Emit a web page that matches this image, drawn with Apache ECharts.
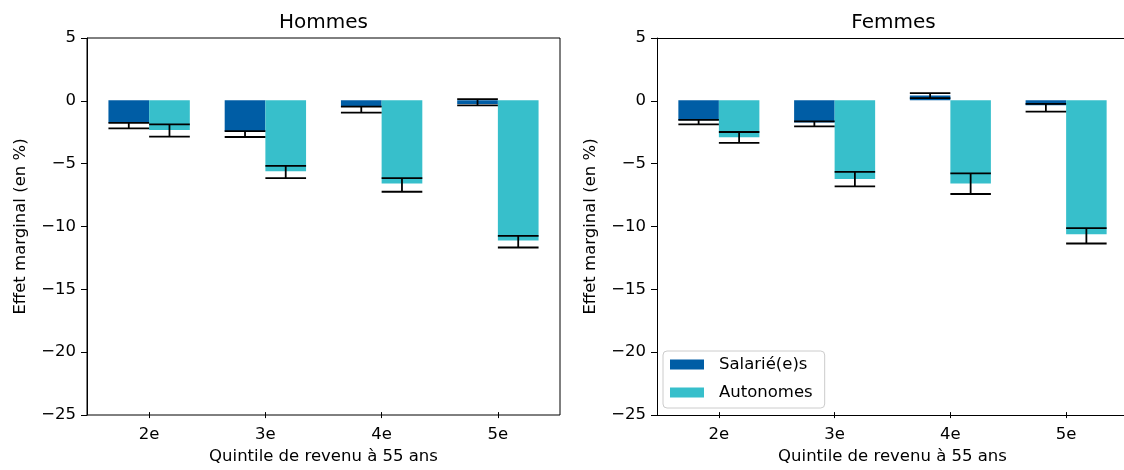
<!DOCTYPE html>
<html><head><meta charset="utf-8">
<script src="https://cdn.jsdelivr.net/npm/echarts@6/dist/echarts.min.js"></script>
<style>html,body{margin:0;padding:0;background:#fff}#c{width:1124px;height:470px}</style>
</head><body><div id="c"></div>
<script>
const categories = ['2e', '3e', '4e', '5e'];
const yTicks = [5, 0, -5, -10, -15, -20, -25];
// Hommes
const hommesSalaries = [-1.8, -2.5, -0.52, -0.3];
const hommesSalariesLow = [-2.25, -2.94, -0.98, -0.4];
const hommesSalariesHigh = [-1.8, -2.46, -0.5, 0.1];
const hommesAutonomes = [-2.38, -5.69, -6.67, -11.24];
const hommesAutonomesLow = [-2.91, -6.24, -7.33, -11.8];
const hommesAutonomesHigh = [-1.93, -5.26, -6.24, -10.87];
// Femmes
const femmesSalaries = [-1.59, -1.77, 0.38, -0.4];
const femmesSalariesLow = [-1.93, -2.09, 0.18, -0.9];
const femmesSalariesHigh = [-1.56, -1.69, 0.58, -0.29];
const femmesAutonomes = [-2.96, -6.3, -6.67, -10.74];
const femmesAutonomesLow = [-3.41, -6.9, -7.51, -11.48];
const femmesAutonomesHigh = [-2.54, -5.74, -5.85, -10.24];

const C_SAL = '#005DA5', C_AUT = '#37BFCB';
const FONT = 'DejaVu Sans';
const FS = 16.5;
const BARFRAC = 0.35;
const Y_MIN = -25, Y_MAX = 5, Y_STEP = 5;

function errSeries(xi, yi, low, high, sign) {
  return {
    type: 'custom', xAxisIndex: xi, yAxisIndex: yi, z: 10, silent: true,
    data: low.map((l, i) => [i, l, high[i]]),
    encode: { x: 0, y: [1, 2] },
    renderItem: function (params, api) {
      const idx = api.value(0);
      const bw = api.size([1, 0])[0] * BARFRAC;
      const p1 = api.coord([idx, api.value(1)]);
      const p2 = api.coord([idx, api.value(2)]);
      const cx = p1[0] + sign * bw / 2;
      const st = { stroke: '#000', lineWidth: 1.8 };
      return { type: 'group', children: [
        { type: 'line', shape: { x1: cx, y1: p1[1], x2: cx, y2: p2[1] }, style: st },
        { type: 'line', shape: { x1: cx - bw / 2, y1: p1[1], x2: cx + bw / 2, y2: p1[1] }, style: st },
        { type: 'line', shape: { x1: cx - bw / 2, y1: p2[1], x2: cx + bw / 2, y2: p2[1] }, style: st }
      ]};
    }
  };
}

const lineStyle = { color: '#000', width: 1 };
const grids = [
  // frame of the left panel (box + labelled y axis)
  { left: 87, top: 38, width: 473, height: 377, show: true, borderColor: '#000', borderWidth: 1 },
  // plotting area of the left panel (categories with matplotlib-like margins)
  { left: 91, top: 38, width: 465, height: 377 },
  // frame of the right panel (runs past the right edge)
  { left: 657, top: 38, right: 0, height: 377 },
  // plotting area of the right panel
  { left: 661, top: 38, right: 0, height: 377 }
];
function catAxis(gi) {
  return {
    type: 'category', gridIndex: gi, data: categories,
    name: 'Quintile de revenu à 55 ans', nameLocation: 'middle', nameGap: 35,
    nameTextStyle: { fontFamily: FONT, fontSize: FS, color: '#000' },
    axisLine: { show: false, onZero: false },
    axisTick: { show: true, alignWithLabel: true, length: 6, lineStyle: { color: '#000' } },
    axisLabel: { fontFamily: FONT, fontSize: FS, color: '#000', margin: 14 },
    splitLine: { show: false }
  };
}
function lineAxis(gi, pos, show) {
  return { type: 'value', gridIndex: gi, position: pos, min: 0, max: 1, show: show,
    axisLine: { show: true, onZero: false, lineStyle: lineStyle },
    axisTick: { show: false }, axisLabel: { show: false }, splitLine: { show: false } };
}
function labelledY(gi) {
  return {
    type: 'value', gridIndex: gi, min: Y_MIN, max: Y_MAX, interval: Y_STEP,
    name: 'Effet marginal (en %)', nameLocation: 'middle', nameGap: 58,
    nameTextStyle: { fontFamily: FONT, fontSize: FS, color: '#000' },
    axisLine: { show: true, onZero: false, lineStyle: lineStyle },
    axisTick: { show: true, length: 6, lineStyle: { color: '#000' } },
    axisLabel: { fontFamily: FONT, fontSize: FS, color: '#000', margin: 11,
      formatter: v => (v < 0 ? '\u2212' + Math.abs(v) : String(v)) },
    splitLine: { show: false }
  };
}
function hiddenY(gi) {
  return { type: 'value', gridIndex: gi, min: Y_MIN, max: Y_MAX, interval: Y_STEP, show: false };
}
function bar(xi, yi, name, data, color) {
  return { type: 'bar', name: name, xAxisIndex: xi, yAxisIndex: yi, data: data,
    barWidth: (BARFRAC * 100) + '%', barGap: '0%', itemStyle: { color: color }, silent: true };
}

const chart = echarts.init(document.getElementById('c'), null, { renderer: 'canvas' });
chart.setOption({
  animation: false,
  backgroundColor: '#fff',
  title: [
    { text: 'Hommes', left: 318.5, top: 8, textAlign: 'center',
      textStyle: { fontFamily: FONT, fontSize: 20, fontWeight: 'normal', color: '#000' } },
    { text: 'Femmes', left: 888.5, top: 8, textAlign: 'center',
      textStyle: { fontFamily: FONT, fontSize: 20, fontWeight: 'normal', color: '#000' } }
  ],
  legend: {
    data: ['Salarié(e)s', 'Autonomes'], orient: 'vertical', left: 663, top: 351,
    itemWidth: 34, itemHeight: 10, itemGap: 11,
    padding: [5, 12, 7, 7], borderColor: '#ccc', borderWidth: 1, borderRadius: 4,
    backgroundColor: 'rgba(255,255,255,0.8)',
    textStyle: { fontFamily: FONT, fontSize: FS, lineHeight: 17, color: '#000', padding: [0, 0, 0, 10] },
    selectedMode: false, icon: 'rect'
  },
  grid: grids,
  xAxis: [
    lineAxis(0, 'bottom', false),
    catAxis(1),
    lineAxis(2, 'bottom', true),
    lineAxis(2, 'top', true),
    catAxis(3)
  ],
  yAxis: [labelledY(0), hiddenY(1), labelledY(2), hiddenY(3)],
  series: [
    bar(1, 1, 'Salarié(e)s', hommesSalaries, C_SAL),
    bar(1, 1, 'Autonomes', hommesAutonomes, C_AUT),
    bar(4, 3, 'Salarié(e)s', femmesSalaries, C_SAL),
    bar(4, 3, 'Autonomes', femmesAutonomes, C_AUT),
    errSeries(1, 1, hommesSalariesLow, hommesSalariesHigh, -1),
    errSeries(1, 1, hommesAutonomesLow, hommesAutonomesHigh, 1),
    errSeries(4, 3, femmesSalariesLow, femmesSalariesHigh, -1),
    errSeries(4, 3, femmesAutonomesLow, femmesAutonomesHigh, 1)
  ]
});
</script></body></html>
